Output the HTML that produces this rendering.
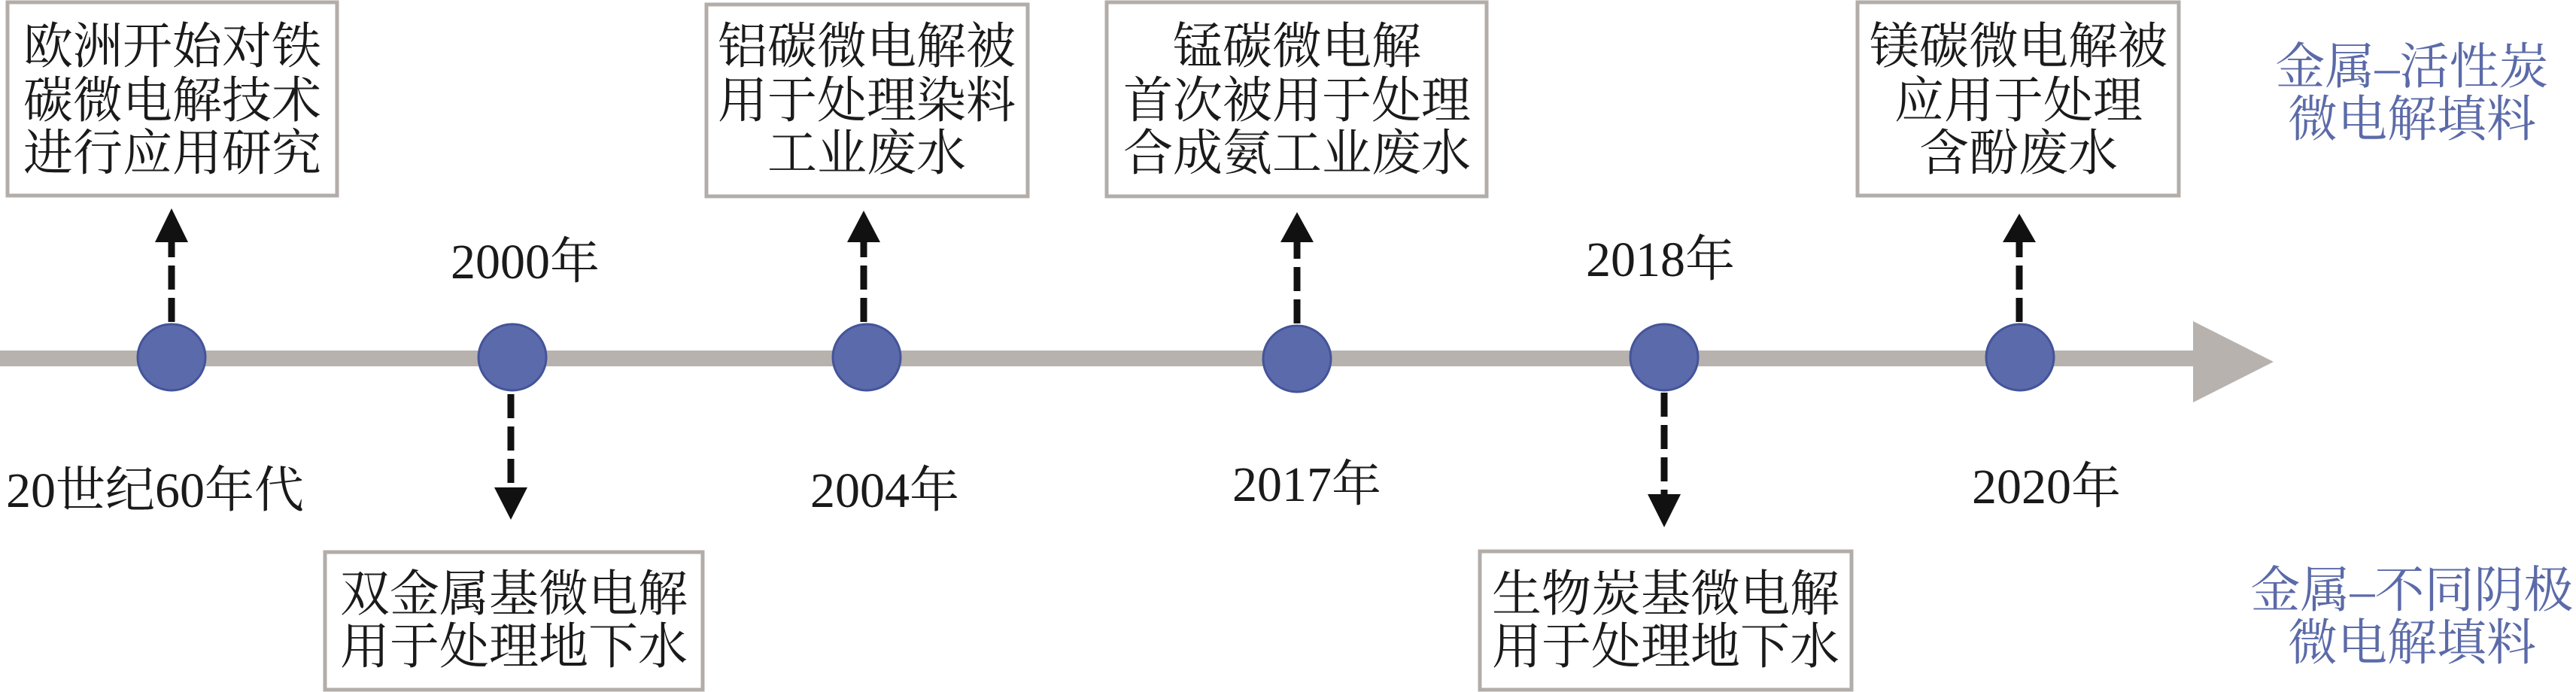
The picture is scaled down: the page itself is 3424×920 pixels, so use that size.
<!DOCTYPE html>
<html><head><meta charset="utf-8"><style>
html,body{margin:0;padding:0;background:#fff;}
svg{display:block;}
text{font-family:"Liberation Serif","Noto Serif CJK SC",serif;font-size:66px;fill:#1a1a1a;}
.b{fill:#5b6aa8;}
</style></head><body>
<svg width="3424" height="920" viewBox="0 0 3424 920" xmlns="http://www.w3.org/2000/svg">
<defs>
<marker id="a" markerWidth="10" markerHeight="10" refX="0" refY="0"/>
</defs>
<!-- timeline -->
<rect x="0" y="466" width="2920" height="21" fill="#b8b2ae"/>
<polygon points="2915,427 3022,481 2915,535" fill="#b8b2ae"/>

<!-- boxes -->
<g fill="#fff" stroke="#b3adaa" stroke-width="5">
<rect x="10" y="3" width="438" height="257"/>
<rect x="939" y="6" width="427" height="255"/>
<rect x="1471" y="3" width="505" height="258"/>
<rect x="2469" y="3" width="427" height="257"/>
<rect x="432" y="734" width="502" height="183"/>
<rect x="1967" y="733" width="494" height="184"/>
</g>

<!-- dashed connectors -->
<g stroke="#111" stroke-width="9" stroke-dasharray="32,11">
<line x1="228" y1="428" x2="228" y2="322"/>
<line x1="1148" y1="428" x2="1148" y2="322"/>
<line x1="1724" y1="430" x2="1724" y2="322"/>
<line x1="2684" y1="428" x2="2684" y2="322"/>
<line x1="679" y1="524" x2="679" y2="648"/>
<line x1="2212" y1="522" x2="2212" y2="658"/>
</g>
<g fill="#111">
<polygon points="206,322 250,322 228,277"/>
<polygon points="1126,322 1170,322 1148,280"/>
<polygon points="1702,322 1746,322 1724,282"/>
<polygon points="2662,322 2706,322 2684,284"/>
<polygon points="657,648 701,648 679,691"/>
<polygon points="2190,657 2234,657 2212,701"/>
</g>

<!-- circles -->
<g fill="#5b6aaa" stroke="#44549a" stroke-width="3">
<ellipse cx="228" cy="475" rx="45" ry="44"/>
<ellipse cx="681" cy="475" rx="45" ry="44"/>
<ellipse cx="1152" cy="475" rx="45" ry="44"/>
<ellipse cx="1724" cy="477" rx="45" ry="44"/>
<ellipse cx="2212" cy="475" rx="45" ry="44"/>
<ellipse cx="2685" cy="475" rx="45" ry="44"/>
</g>

<!-- box texts -->
<g text-anchor="middle">
<text x="229" y="84">欧洲开始对铁</text>
<text x="229" y="156">碳微电解技术</text>
<text x="229" y="226">进行应用研究</text>

<text x="1152" y="84">铝碳微电解被</text>
<text x="1152" y="156">用于处理染料</text>
<text x="1152" y="226">工业废水</text>

<text x="1724" y="84">锰碳微电解</text>
<text x="1724" y="156">首次被用于处理</text>
<text x="1724" y="226">合成氨工业废水</text>

<text x="2683" y="84">镁碳微电解被</text>
<text x="2683" y="156">应用于处理</text>
<text x="2683" y="226">含酚废水</text>

<text x="683" y="812">双金属基微电解</text>
<text x="683" y="882">用于处理地下水</text>

<text x="2214" y="812">生物炭基微电解</text>
<text x="2214" y="882">用于处理地下水</text>

<!-- year labels -->
<text x="698" y="370">2000年</text>
<text x="2207" y="367">2018年</text>
<text x="206" y="674">20世纪60年代</text>
<text x="1176" y="674">2004年</text>
<text x="1737" y="666">2017年</text>
<text x="2720" y="669">2020年</text>

<text class="b" x="3206" y="111">金属–活性炭</text>
<text class="b" x="3206" y="181">微电解填料</text>
<text class="b" x="3206" y="807">金属–不同阴极</text>
<text class="b" x="3206" y="877">微电解填料</text>
</g>
</svg>
</body></html>
